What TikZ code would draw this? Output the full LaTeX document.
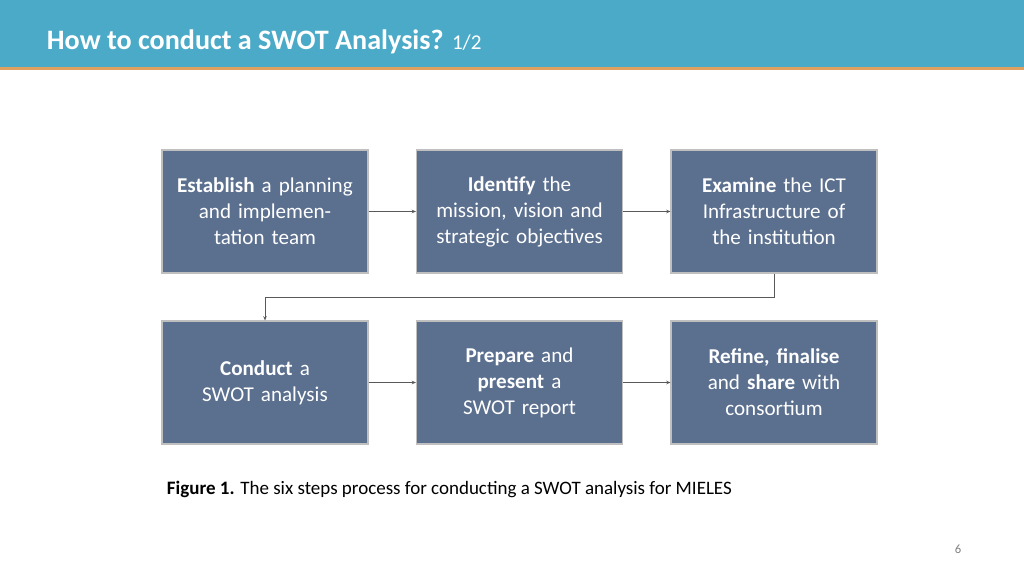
\documentclass[tikz,border=0pt]{standalone}
\usepackage{fontspec}
\setmainfont{Carlito}
\usepackage{tikz}
\usetikzlibrary{arrows.meta}
\definecolor{boxblue}{HTML}{5B6F8F}
\definecolor{headblue}{HTML}{4BAAC8}
\definecolor{lineorange}{HTML}{E0A060}
\begin{document}
\begin{tikzpicture}[x=0.025cm,y=-0.025cm,
	stepbox/.style={rectangle, draw=black!25, line width=0.8pt, fill=boxblue, text=white,
		minimum width=206*0.025cm, minimum height=123*0.025cm, text width=180*0.025cm,
		align=center, font=\fontsize{15}{18.5}\selectfont},
	link/.style={draw=black!65, line width=0.5pt, -{Stealth[length=3pt,width=2.5pt]}}]
	\useasboundingbox (0,0) rectangle (1024,576);
	\fill[headblue] (0,0) rectangle (1024,67);
	\fill[lineorange] (0,67) rectangle (1024,70);
	\node (title) at (42,42) [anchor=west, text=white] {\fontsize{20}{24}\selectfont\textbf{How to conduct a SWOT Analysis?} {\fontsize{15}{18}\selectfont 1/2}};
	\node (s1) at (265,211.5) [stepbox] {\textbf{Establish} a planning and implementation team};
	\node (s2) at (519.5,211.5) [stepbox] {\textbf{Identify} the mission, vision and strategic objectives};
	\node (s3) at (774,211.5) [stepbox] {\textbf{Examine} the ICT Infrastructure of the institution};
	\node (s4) at (265,382.5) [stepbox] {\textbf{Conduct} a SWOT analysis};
	\node (s5) at (519.5,382.5) [stepbox] {\textbf{Prepare} and \textbf{present} a SWOT report};
	\node (s6) at (774,382.5) [stepbox] {\textbf{Refine, finalise} and \textbf{share} with consortium};
	\draw[link] (s1) -- (s2);
	\draw[link] (s2) -- (s3);
	\draw[link] (s3.south) -- ++(0,24) -| (s4.north);
	\draw[link] (s4) -- (s5);
	\draw[link] (s5) -- (s6);
	\node (caption) at (162,489) [anchor=west] {\fontsize{13.5}{16}\selectfont\textbf{Figure 1.} The six steps process for conducting a SWOT analysis for MIELES};
	\node (page) at (958,549) [text=black!50] {\fontsize{9}{11}\selectfont 6};
\end{tikzpicture}
\end{document}
